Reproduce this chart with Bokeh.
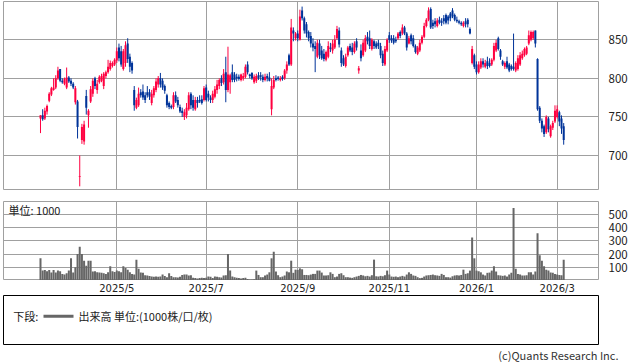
from bokeh.plotting import figure
from bokeh.layouts import column
from bokeh.models import FixedTicker, Range1d, Label, Title, ColumnDataSource
from bokeh.embed import file_html
from bokeh.resources import INLINE
from bokeh.core.properties import value

tick_index = [35, 76, 118, 160, 200, 237]
tick_labels = ["2025/5", "2025/7", "2025/9", "2025/11", "2026/1", "2026/3"]
price_ticks = [700, 750, 800, 850]
volume_ticks = [100, 200, 300, 400, 500]

opens = [
    748, 752, 748, 757, 771, 779, 785, 788, 800, 812,
    797, 793, 788, 801, 797, 793, 769, 770, 672, 720,
    718, 777, 752, 770, 780, 800, 785, 795, 797, 790,
    803, 808, 812, 816, 818, 823, 840, 835, 812, 820,
    845, 828, 820, 785, 762, 765, 782, 783, 778, 782,
    782, 768, 778, 785, 792, 800, 797, 790, 778, 768,
    764, 763, 778, 772, 763, 758, 750, 752, 760, 780,
    772, 760, 772, 772, 773, 772, 788, 780, 775, 772,
    776, 785, 790, 800, 795, 808, 785, 795, 808, 805,
    802, 802, 798, 800, 802, 818, 805, 807, 795, 797,
    804, 804, 802, 798, 803, 801, 760, 788, 800, 801,
    798, 802, 800, 810, 830, 818, 862, 852, 858, 850,
    888, 878, 870, 860, 855, 845, 842, 828, 845, 836,
    832, 824, 828, 840, 836, 840, 852, 862, 836, 826,
    816, 830, 842, 840, 834, 848, 810, 836, 830, 836,
    854, 852, 838, 848, 845, 846, 842, 832, 818, 836,
    856, 852, 852, 850, 852, 860, 858, 866, 858, 845,
    856, 852, 842, 832, 836, 846, 854, 868, 876, 890,
    872, 874, 868, 876, 874, 878, 882, 880, 884, 888,
    882, 876, 874, 872, 868, 874, 876, 864, 820, 830,
    818, 808, 814, 822, 815, 822, 820, 818, 824, 836,
    852, 836, 822, 815, 822, 818, 816, 815, 810, 812,
    818, 826, 830, 832, 845, 850, 852, 862, 825, 762,
    745, 738, 730, 748, 725, 736, 744, 750, 756, 748,
    738,
]
highs = [
    752, 760, 762, 766, 782, 789, 800, 804, 815, 812,
    800, 801, 814, 803, 800, 795, 790, 772, 700, 741,
    745, 785, 760, 790, 800, 802, 798, 804, 806, 808,
    810, 824, 823, 822, 826, 840, 845, 842, 838, 848,
    852, 832, 822, 790, 775, 788, 786, 792, 782, 790,
    786, 785, 790, 800, 803, 807, 800, 792, 780, 770,
    766, 782, 783, 776, 766, 762, 760, 768, 782, 782,
    778, 776, 776, 778, 778, 790, 792, 784, 778, 784,
    790, 798, 800, 804, 812, 828, 841, 806, 818, 808,
    806, 805, 806, 807, 818, 822, 806, 808, 805, 806,
    808, 808, 805, 806, 806, 808, 800, 803, 804, 803,
    803, 804, 812, 822, 832, 877, 866, 860, 862, 889,
    893, 880, 873, 862, 860, 852, 848, 850, 850, 842,
    838, 836, 848, 846, 850, 856, 868, 866, 840, 830,
    832, 842, 845, 846, 848, 852, 816, 844, 850, 856,
    860, 862, 852, 850, 848, 850, 846, 836, 842, 852,
    860, 856, 856, 854, 860, 862, 870, 868, 860, 855,
    858, 856, 844, 842, 850, 856, 872, 878, 892, 892,
    876, 878, 878, 880, 878, 882, 884, 882, 886, 891,
    884, 880, 876, 874, 874, 878, 878, 866, 842, 832,
    822, 822, 826, 826, 824, 828, 826, 826, 846, 850,
    854, 838, 824, 822, 828, 820, 818, 858, 822, 830,
    834, 836, 840, 842, 862, 862, 862, 862, 826, 764,
    748, 740, 752, 750, 740, 745, 765, 765, 758, 752,
    742,
]
lows = [
    729, 745, 746, 753, 769, 777, 784, 786, 798, 795,
    793, 791, 786, 794, 790, 786, 766, 722, 660, 715,
    714, 753, 736, 768, 776, 786, 780, 793, 795, 786,
    800, 806, 810, 814, 816, 820, 822, 815, 810, 815,
    820, 808, 806, 758, 760, 763, 775, 772, 768, 775,
    772, 765, 775, 782, 788, 788, 785, 780, 762, 760,
    760, 760, 768, 762, 755, 750, 746, 748, 758, 760,
    758, 758, 762, 768, 766, 770, 770, 770, 768, 768,
    774, 780, 786, 790, 792, 769, 782, 780, 795, 795,
    796, 797, 796, 797, 800, 805, 800, 798, 793, 794,
    798, 797, 795, 796, 796, 796, 752, 786, 796, 797,
    796, 797, 798, 806, 816, 816, 848, 849, 848, 849,
    875, 858, 853, 848, 840, 835, 808, 826, 825, 824,
    822, 822, 826, 834, 832, 838, 850, 840, 815, 816,
    814, 828, 834, 830, 832, 836, 806, 822, 828, 834,
    844, 838, 836, 838, 838, 838, 826, 816, 816, 834,
    846, 846, 844, 846, 850, 852, 856, 856, 836, 844,
    844, 840, 832, 830, 834, 844, 852, 866, 874, 864,
    864, 866, 866, 870, 868, 870, 870, 870, 874, 878,
    874, 872, 870, 868, 866, 866, 866, 857, 818, 812,
    805, 806, 812, 814, 813, 812, 814, 816, 822, 834,
    836, 824, 816, 812, 812, 808, 810, 810, 808, 810,
    816, 824, 828, 830, 843, 848, 850, 840, 758, 742,
    730, 724, 728, 730, 723, 733, 742, 748, 738, 728,
    714,
]
closes = [
    752, 747, 758, 764, 780, 787, 788, 800, 810, 797,
    795, 799, 801, 796, 793, 788, 787, 737, 673, 737,
    740, 762, 758, 786, 797, 790, 793, 802, 803, 806,
    808, 815, 820, 820, 824, 835, 826, 818, 835, 843,
    825, 815, 810, 765, 772, 780, 778, 775, 772, 778,
    776, 780, 787, 796, 800, 792, 788, 784, 765, 763,
    762, 778, 770, 765, 757, 755, 756, 762, 778, 765,
    762, 772, 768, 770, 768, 787, 772, 775, 772, 780,
    786, 792, 798, 794, 806, 785, 805, 804, 798, 798,
    800, 799, 805, 803, 815, 808, 803, 800, 802, 803,
    800, 802, 798, 802, 800, 797, 790, 798, 798, 799,
    800, 799, 810, 818, 818, 866, 858, 858, 852, 880,
    878, 862, 858, 852, 845, 840, 838, 846, 830, 826,
    825, 834, 842, 838, 845, 850, 864, 844, 820, 818,
    828, 840, 836, 834, 845, 840, 813, 826, 846, 852,
    848, 842, 850, 842, 840, 842, 830, 820, 838, 850,
    850, 849, 846, 848, 858, 855, 866, 858, 840, 852,
    848, 842, 834, 840, 846, 854, 868, 876, 888, 866,
    868, 870, 875, 872, 872, 874, 872, 875, 878, 880,
    876, 874, 872, 870, 872, 870, 870, 858, 838, 815,
    808, 818, 822, 818, 820, 816, 816, 824, 842, 846,
    838, 828, 818, 820, 814, 810, 812, 812, 820, 826,
    830, 832, 838, 840, 856, 860, 860, 845, 760, 745,
    735, 728, 750, 734, 738, 742, 758, 760, 744, 735,
    720,
]
volumes = [
    168, 75, 80, 70, 80, 60, 80, 60, 75, 70,
    50, 45, 55, 75, 168, 60, 100, 200, 255, 200,
    150, 112, 150, 150, 68, 70, 62, 60, 58, 55,
    50, 62, 108, 70, 65, 75, 70, 62, 108, 95,
    82, 62, 50, 45, 158, 88, 60, 58, 40, 38,
    35, 30, 28, 30, 28, 30, 45, 35, 25, 55,
    35, 25, 25, 22, 28, 42, 45, 45, 38, 40,
    20, 18, 15, 18, 20, 18, 20, 30, 28, 18,
    30, 28, 25, 22, 38, 40, 200, 75, 30, 25,
    20, 18, 15, 18, 20, 12, 8, 8, 10, 75,
    42, 25, 25, 38, 45, 62, 168, 218, 68, 40,
    25, 30, 38, 68, 62, 150, 58, 82, 80, 92,
    85, 42, 42, 40, 45, 50, 50, 75, 75, 60,
    38, 38, 40, 62, 50, 25, 30, 50, 55, 40,
    25, 25, 22, 20, 25, 30, 35, 42, 38, 32,
    35, 30, 40, 158, 32, 30, 35, 32, 40, 75,
    45, 30, 28, 30, 25, 30, 35, 30, 45, 62,
    50, 38, 35, 25, 18, 20, 30, 38, 40, 42,
    45, 40, 38, 35, 50, 42, 25, 25, 22, 32,
    38, 40, 38, 42, 82, 50, 55, 75, 325, 168,
    75, 70, 62, 45, 38, 58, 60, 75, 108, 68,
    40, 38, 35, 38, 30, 45, 58, 548, 88, 50,
    45, 38, 38, 40, 62, 62, 45, 68, 358, 192,
    150, 108, 82, 75, 60, 58, 50, 45, 42, 40,
    158,
]

RED = "#ff0040"
BLUE = "#003399"
GRID = "#a0a0a0"
VOL = "#666666"
FONT = "Noto Sans CJK JP"
TXT = "#222222"
PX_PER_DAY = 2.18
X0 = -16.97

n = len(closes)
xs = list(range(n))
src = ColumnDataSource(dict(
    x=xs,
    o=opens, h=highs, l=lows, c=closes,
    top=[max(o, c) for o, c in zip(opens, closes)],
    bot=[min(o, c) for o, c in zip(opens, closes)],
    col=[RED if c >= o else BLUE for o, c in zip(opens, closes)],
    v=volumes,
))

X_RANGE = Range1d(X0, X0 + 595 / PX_PER_DAY)


def style_common(fig):
    fig.background_fill_color = "white"
    fig.border_fill_color = "white"
    fig.outline_line_color = GRID
    fig.outline_line_width = 1
    for g in fig.xgrid + fig.ygrid:
        g.grid_line_color = GRID
        g.grid_line_width = 1
    fig.xgrid.ticker = FixedTicker(ticks=tick_index)


def style_yaxis(ax, ticks):
    ax.ticker = FixedTicker(ticks=ticks)
    ax.axis_line_color = None
    ax.major_tick_line_color = None
    ax.minor_tick_line_color = None
    ax.major_tick_out = 0
    ax.major_tick_in = 0
    ax.major_label_standoff = 10
    ax.major_label_text_font = FONT
    ax.major_label_text_font_size = "11.5px"
    ax.major_label_text_color = TXT


# ---- price panel ----
p = figure(width=638, height=190, x_range=X_RANGE, y_range=Range1d(654.6, 899.6),
           x_axis_location=None, y_axis_location="right",
           output_backend="svg", toolbar_location=None,
           min_border_left=3, min_border_right=40, min_border_top=1, min_border_bottom=0)
style_common(p)
style_yaxis(p.yaxis[0], price_ticks)
p.ygrid.ticker = FixedTicker(ticks=price_ticks)
p.segment(x0="x", y0="l", x1="x", y1="h", line_color="col", line_width=1, source=src)
p.vbar(x="x", top="top", bottom="bot", width=0.92, fill_color="col", line_color=None, source=src)

# ---- volume panel ----
v = figure(width=638, height=90, x_range=X_RANGE, y_range=Range1d(0, 598),
           x_axis_location=None, y_axis_location="right",
           output_backend="svg", toolbar_location=None,
           min_border_left=3, min_border_right=40, min_border_top=11, min_border_bottom=0)
style_common(v)
style_yaxis(v.yaxis[0], volume_ticks)
v.ygrid.ticker = FixedTicker(ticks=volume_ticks)
v.vbar(x="x", top="v", bottom=0, width=0.92, fill_color=VOL, line_color=None, source=src)
v.add_layout(Label(x=X0 + 5 / PX_PER_DAY, y=537, text="単位: 1000", text_font=FONT,
                   text_font_size="11px", text_color=TXT, text_baseline="middle"))

# ---- month label strip (same frame as the panels above) ----
m = figure(width=638, height=15, x_range=X_RANGE, y_range=Range1d(0, 15),
           x_axis_location=None, y_axis_location=None,
           output_backend="svg", toolbar_location=None,
           min_border_left=3, min_border_right=40, min_border_top=0, min_border_bottom=0)
m.xgrid.visible = False
m.ygrid.visible = False
m.outline_line_color = None
m.background_fill_color = "white"
m.border_fill_color = "white"
m.text(x=tick_index, y=[7] * len(tick_index), text=tick_labels, text_font=value("DejaVu Sans"),
       text_font_size="10px", text_color=TXT, text_align="center", text_baseline="middle")

# ---- legend box (x measured in pixels from the box's left edge) ----
lg = figure(width=638, height=67, x_range=Range1d(0, 595), y_range=Range1d(0, 52),
            x_axis_location=None, y_axis_location=None,
            output_backend="svg", toolbar_location=None,
            min_border_left=3, min_border_right=5, min_border_top=0, min_border_bottom=15)
lg.xgrid.visible = False
lg.ygrid.visible = False
lg.outline_line_color = "#000000"
lg.outline_line_width = 1
lg.background_fill_color = "white"
lg.border_fill_color = "white"
lg.text(x=[9.7], y=[30], text=["下段:"], text_font=value(FONT), text_font_size="11px",
        text_color=TXT, text_baseline="middle")
lg.segment(x0=[40], y0=[30], x1=[70], y1=[30], line_color=VOL, line_width=3)
lg.text(x=[75], y=[30], text=["出来高 単位:(1000株/口/枚)"], text_font=value(FONT),
        text_font_size="11px", text_color=TXT, text_baseline="middle")
lg.add_layout(Title(text="(c)Quants Research Inc.", align="right", text_font=FONT,
                    text_font_size="11px", text_font_style="normal", text_color="#333333",
                    offset=-20, standoff=0), "below")

layout = column(p, v, m, lg, spacing=0)
open("out.html", "w").write(file_html(layout, INLINE))
